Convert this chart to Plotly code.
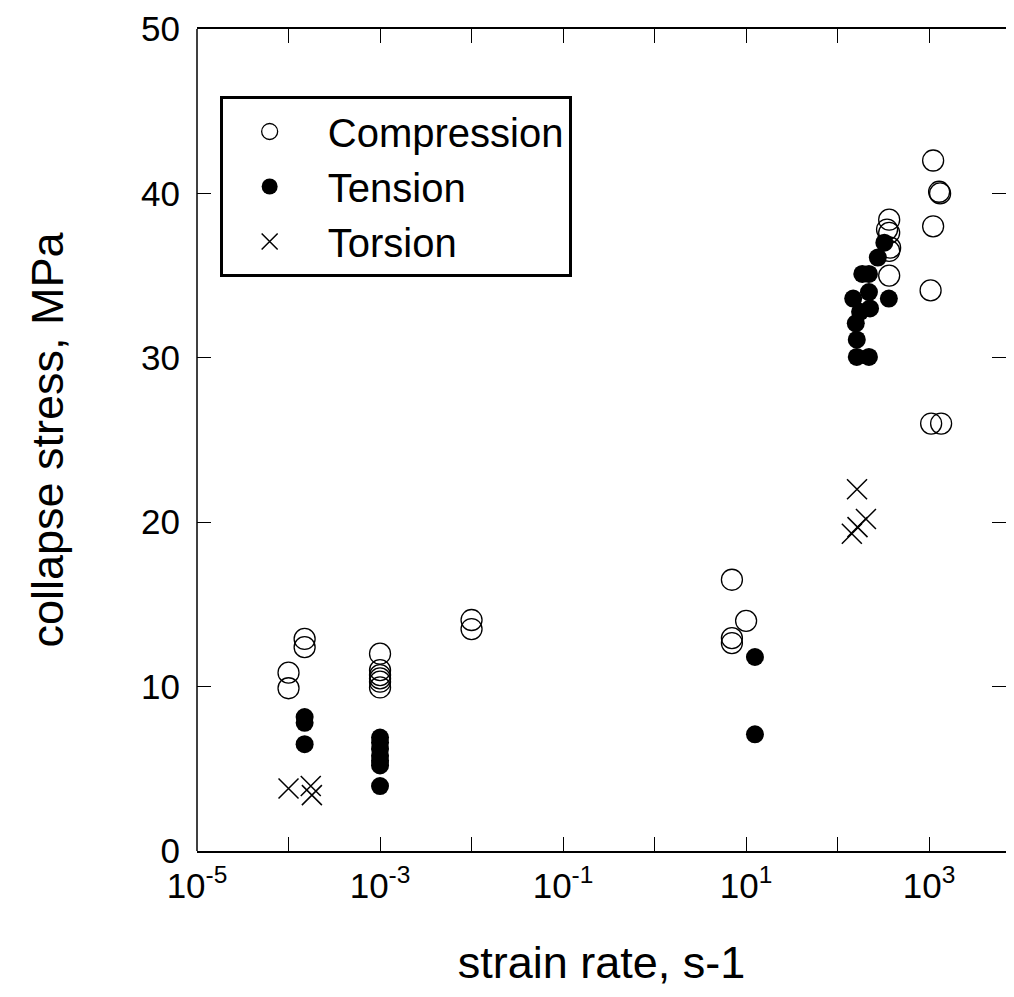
import plotly.graph_objects as go

# ---- data ----
comp_x = [1.0e-4, 1.0e-4, 1.5e-4, 1.5e-4,
          1e-3, 1e-3, 1e-3, 1e-3, 1e-3, 1e-3,
          1e-2, 1e-2,
          7.0, 7.0, 7.0, 10.0,
          347, 366, 375, 366, 366, 366,
          1106, 1286, 1318, 1106, 1038, 1052, 1352]
comp_y = [10.85, 9.9, 12.9, 12.4,
          12.0, 11.0, 10.7, 10.5, 10.3, 9.95,
          14.05, 13.5,
          16.5, 12.95, 12.65, 14.0,
          37.8, 38.4, 36.7, 36.5, 37.6, 35.0,
          42.0, 40.1, 40.0, 38.0, 34.1, 26.0, 26.0]

tens_x = [1.5e-4, 1.5e-4, 1.5e-4,
          1e-3, 1e-3, 1e-3, 1e-3, 1e-3, 1e-3, 1e-3,
          12.5, 12.5,
          148, 176, 158, 162, 162, 220, 186, 220, 220, 226, 275, 324, 363]
tens_y = [8.15, 7.8, 6.5,
          6.9, 6.6, 6.2, 5.8, 5.5, 5.2, 3.95,
          11.8, 7.1,
          33.6, 32.8, 32.1, 31.1, 30.05, 30.05, 35.1, 35.1, 34.0, 33.0, 36.1, 37.0, 33.6]

tors_x = [1.0e-4, 1.75e-4, 1.8e-4,
          163, 204, 165, 143]
tors_y = [3.8, 3.95, 3.4,
          22.0, 20.2, 19.7, 19.3]

series_names = ["\u00a0Compression", "\u00a0Tension", "\u00a0Torsion"]

x_tickvals = [1e-5, 1e-4, 1e-3, 1e-2, 1e-1, 1e0, 1e1, 1e2, 1e3]
x_ticktext = ["10<sup>-5</sup>", "", "10<sup>-3</sup>", "", "10<sup>-1</sup>", "",
              "10<sup>1</sup>", "", "10<sup>3</sup>"]
y_tickvals = [0, 10, 20, 30, 40, 50]

FONT = "Liberation Sans, Arial, sans-serif"

fig = go.Figure()
fig.add_trace(go.Scatter(
    x=comp_x, y=comp_y, mode="markers", name=series_names[0],
    marker=dict(symbol="circle-open", size=21, color="black",
                line=dict(width=1.3, color="black"))))
fig.add_trace(go.Scatter(
    x=tens_x, y=tens_y, mode="markers", name=series_names[1],
    marker=dict(symbol="circle", size=18, color="black",
                line=dict(width=0))))
fig.add_trace(go.Scatter(
    x=tors_x, y=tors_y, mode="markers", name=series_names[2],
    marker=dict(symbol="x-thin", size=20, color="black",
                line=dict(width=1.5, color="black"))))

# left frame line (the right side of the frame lies outside the picture)
fig.add_shape(type="line", xref="paper", yref="paper", x0=0, x1=0, y0=0, y1=1,
              line=dict(color="black", width=1.5))

# page body has an 8px default margin; the figure is sized to fit the window
fig.update_layout(
    width=998, height=981,
    margin=dict(l=189, r=0, t=21, b=138),
    paper_bgcolor="white", plot_bgcolor="white",
    font=dict(family=FONT, color="black", size=35),
    showlegend=True,
    legend=dict(x=0.028, y=0.9185, xanchor="left", yanchor="top",
                bgcolor="white", bordercolor="black", borderwidth=3,
                font=dict(size=40, family=FONT),
                itemwidth=84, tracegroupgap=0),
    xaxis=dict(type="log", range=[-5, 3.84], automargin=False,
               tickvals=x_tickvals, ticktext=x_ticktext,
               ticks="inside", ticklen=14, tickwidth=1, tickcolor="black",
               showline=True, linecolor="black", linewidth=1.5,
               mirror="allticks", showgrid=False, zeroline=False,
               tickfont=dict(size=35), ticklabelstandoff=3,
               title=dict(text="strain rate, s-1", font=dict(size=45), standoff=43)),
    yaxis=dict(range=[0, 50], tickvals=y_tickvals, automargin=False,
               ticks="inside", ticklen=14, tickwidth=1, tickcolor="black",
               showline=False,
               mirror="allticks", showgrid=False, zeroline=False,
               tickfont=dict(size=35), ticklabelstandoff=16,
               title=dict(text="collapse stress, MPa", font=dict(size=45), standoff=63)),
)

fig.write_html("out.html")
